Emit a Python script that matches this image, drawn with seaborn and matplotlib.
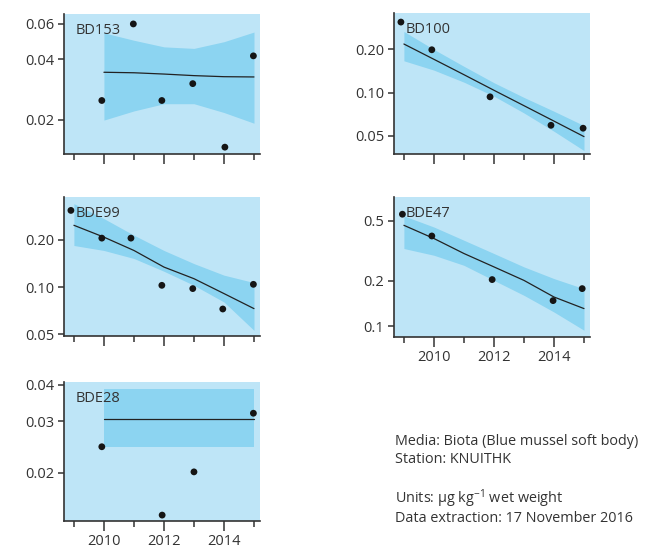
import seaborn as sns
import matplotlib.pyplot as plt
from matplotlib.ticker import FixedLocator, NullLocator

# ---- data ----
fit_years = [2009, 2010, 2011, 2012, 2013, 2014, 2015]

bd153_years = [2009.93, 2010.98, 2011.93, 2012.96, 2014.03, 2014.98]
bd153_values = [0.0249, 0.0598, 0.0249, 0.0302, 0.0146, 0.0415]
bd153_fit_years = [2010, 2011, 2012, 2013, 2014, 2015]
bd153_fit = [0.0344, 0.0342, 0.0337, 0.0331, 0.0327, 0.0326]
bd153_lower = [0.0199, 0.0221, 0.0240, 0.0240, 0.0217, 0.0192]
bd153_upper = [0.0540, 0.0496, 0.0460, 0.0452, 0.0488, 0.0545]

bd100_years = [2008.9, 2009.93, 2011.87, 2013.9, 2014.97]
bd100_values = [0.308, 0.198, 0.0934, 0.0593, 0.0566]
bd100_fit = [0.217, 0.170, 0.133, 0.1037, 0.0811, 0.0634, 0.0495]
bd100_lower = [0.166, 0.143, 0.118, 0.0944, 0.0722, 0.0539, 0.0396]
bd100_upper = [0.265, 0.199, 0.152, 0.117, 0.0925, 0.0742, 0.0590]

bde99_years = [2008.9, 2009.93, 2010.9, 2011.93, 2012.96, 2013.96, 2014.98]
bde99_values = [0.308, 0.205, 0.205, 0.1025, 0.0977, 0.0724, 0.104]
bde99_fit = [0.2475, 0.208, 0.171, 0.134, 0.113, 0.0908, 0.0728]
bde99_lower = [0.184, 0.171, 0.152, 0.126, 0.1025, 0.0802, 0.0529]
bde99_upper = [0.340, 0.273, 0.214, 0.171, 0.141, 0.119, 0.1067]

bde47_years = [2008.95, 2009.93, 2011.94, 2013.97, 2014.94]
bde47_values = [0.552, 0.396, 0.2035, 0.1476, 0.1773]
bde47_fit = [0.466, 0.381, 0.303, 0.247, 0.201, 0.156, 0.1307]
bde47_lower = [0.327, 0.295, 0.253, 0.201, 0.160, 0.124, 0.0939]
bde47_upper = [0.538, 0.454, 0.371, 0.303, 0.247, 0.2066, 0.177]

bde28_years = [2009.93, 2011.94, 2013.0, 2014.98]
bde28_values = [0.0245, 0.0143, 0.0201, 0.0319]
bde28_fit_years = [2010, 2015]
bde28_fit = [0.0304, 0.0304]
bde28_lower = [0.0245, 0.0245]
bde28_upper = [0.0385, 0.0385]

info_lines = ["Media: Biota (Blue mussel soft body)", "Station: KNUITHK", "",
              "Units: \u00b5g kg$^{-1}$ wet weight",
              "Data extraction: 17 November 2016"]

BG = "#bee5f7"
BAND = "#8cd4f1"
INK = "#333333"
W, H = 649, 553

sns.set_style("ticks")
plt.rcParams['font.family'] = ['Open Sans', 'DejaVu Sans']
plt.rcParams['font.size'] = 10
plt.rcParams['mathtext.fontset'] = 'custom'
plt.rcParams['mathtext.rm'] = 'Open Sans'
plt.rcParams['mathtext.default'] = 'rm'

fig = plt.figure(figsize=(W / 100, H / 100), dpi=100)


def px_axes(left, top, right, bottom):
    return fig.add_axes([left / W, 1 - bottom / H, (right - left) / W, (bottom - top) / H])


def draw_panel(ax, name, years, values, fx, fit, lower, upper, ylim, yticks, ylabels, xlabels=False):
    ax.set_facecolor(BG)
    ax.set_yscale('log')
    ax.fill_between(fx, lower, upper, color=BAND, lw=0, zorder=1)
    sns.lineplot(x=fx, y=fit, ax=ax, color="#222222", lw=0.9, zorder=2)
    sns.scatterplot(x=years, y=values, ax=ax, color="#151515", s=24,
                    edgecolor='none', zorder=4, clip_on=False)
    ax.set_xlim(2008.67, 2015.2)
    ax.set_ylim(*ylim)
    ax.yaxis.set_major_locator(FixedLocator(yticks))
    ax.yaxis.set_minor_locator(NullLocator())
    ax.set_yticklabels(ylabels)
    ax.xaxis.set_major_locator(FixedLocator([2010, 2012, 2014]))
    ax.xaxis.set_minor_locator(FixedLocator([2009, 2011, 2013, 2015]))
    if not xlabels:
        ax.set_xticklabels([])
    ax.tick_params(axis='x', which='major', length=7, width=1.1, color=INK, labelsize=10.5,
                   labelcolor=INK, pad=2.5)
    ax.tick_params(axis='x', which='minor', length=4, width=1.1, color=INK)
    ax.tick_params(axis='y', length=4, width=1.1, color=INK, labelsize=10.5, labelcolor=INK, pad=3)
    for s in ['top', 'right']:
        ax.spines[s].set_visible(False)
    for s in ['left', 'bottom']:
        ax.spines[s].set_color(INK)
        ax.spines[s].set_linewidth(1.2)
    ax.text(0.06, 0.88, name, transform=ax.transAxes, fontsize=10.5, color=INK,
            va='center', ha='left', zorder=5)


ax1 = px_axes(64, 14, 260, 154)
draw_panel(ax1, "BD153", bd153_years, bd153_values, bd153_fit_years, bd153_fit,
           bd153_lower, bd153_upper, (0.0135, 0.067), [0.02, 0.04, 0.06],
           ["0.02", "0.04", "0.06"])

ax2 = px_axes(394, 13, 590, 154)
draw_panel(ax2, "BD100", bd100_years, bd100_values, fit_years, bd100_fit,
           bd100_lower, bd100_upper, (0.0375, 0.356), [0.05, 0.10, 0.20],
           ["0.05", "0.10", "0.20"])

ax3 = px_axes(64, 197, 260, 336)
draw_panel(ax3, "BDE99", bde99_years, bde99_values, fit_years, bde99_fit,
           bde99_lower, bde99_upper, (0.0487, 0.375), [0.05, 0.10, 0.20],
           ["0.05", "0.10", "0.20"])

ax4 = px_axes(394, 197, 590, 337)
draw_panel(ax4, "BDE47", bde47_years, bde47_values, fit_years, bde47_fit,
           bde47_lower, bde47_upper, (0.0847, 0.718), [0.1, 0.2, 0.5],
           ["0.1", "0.2", "0.5"], xlabels=True)

ax5 = px_axes(64, 382, 260, 521)
draw_panel(ax5, "BDE28", bde28_years, bde28_values, bde28_fit_years, bde28_fit,
           bde28_lower, bde28_upper, (0.01365, 0.0408), [0.02, 0.03, 0.04],
           ["0.02", "0.03", "0.04"], xlabels=True)

baselines = [445, 463, 484, 503, 522]
for line, yb in zip(info_lines, baselines):
    if line:
        fig.text(395 / W, 1 - yb / H, line, fontsize=10.4, color=INK, va='baseline', ha='left')

fig.savefig("out.png", dpi=100)
